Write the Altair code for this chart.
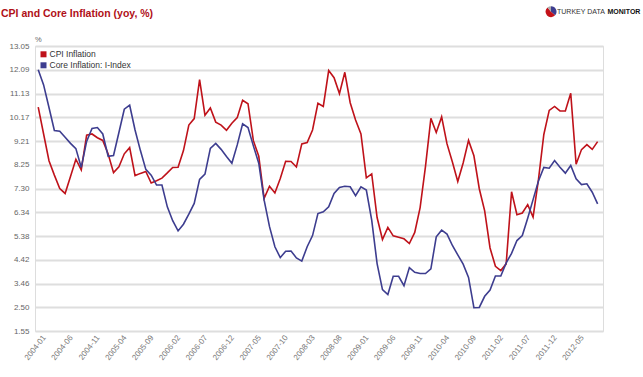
import altair as alt
import pandas as pd

# ---- data ----
months = [f"{2004 + i // 12}-{i % 12 + 1:02d}" for i in range(105)]

cpi = [
    10.58, 9.50, 8.42, 7.84, 7.30, 7.10, 7.78, 8.48, 8.05, 9.45, 9.50, 9.35,
    9.24, 8.69, 7.94, 8.18, 8.70, 8.95, 7.82, 7.91, 7.99, 7.52, 7.61, 7.72,
    7.93, 8.15, 8.16, 8.83, 9.86, 10.12, 11.69, 10.26, 10.55, 9.98, 9.86, 9.65,
    9.93, 10.16, 10.86, 10.72, 9.23, 8.60, 6.90, 7.39, 7.12, 7.70, 8.40, 8.39,
    8.17, 9.10, 9.15, 9.66, 10.74, 10.61, 12.06, 11.77, 11.13, 11.99, 10.76, 10.06,
    9.50, 7.73, 7.89, 6.13, 5.24, 5.73, 5.39, 5.33, 5.27, 5.08, 5.53, 6.53,
    8.19, 10.13, 9.56, 10.19, 9.10, 8.37, 7.58, 8.33, 9.24, 8.62, 7.29, 6.40,
    4.90, 4.16, 3.99, 4.26, 7.17, 6.24, 6.31, 6.65, 6.15, 7.66, 9.48, 10.45,
    10.61, 10.43, 10.43, 11.14, 8.28, 8.87, 9.07, 8.88, 9.19,
]

core = [
    12.09, 11.48, 10.57, 9.64, 9.61, 9.37, 9.12, 8.91, 8.15, 9.20, 9.72, 9.76,
    9.50, 8.60, 8.63, 9.56, 10.50, 10.66, 9.66, 8.83, 8.07, 7.84, 7.44, 7.44,
    6.56, 6.00, 5.59, 5.86, 6.27, 6.70, 7.67, 7.88, 8.92, 9.12, 8.88, 8.59,
    8.32, 9.06, 9.91, 9.76, 9.02, 8.32, 6.83, 5.76, 4.95, 4.51, 4.77, 4.78,
    4.50, 4.37, 4.95, 5.40, 6.29, 6.36, 6.56, 7.10, 7.34, 7.39, 7.37, 7.01,
    7.37, 7.24, 6.02, 4.27, 3.22, 3.02, 3.76, 3.76, 3.38, 4.11, 3.92, 3.87,
    3.87, 4.06, 5.35, 5.62, 5.46, 5.00, 4.62, 4.25, 3.71, 2.49, 2.50, 2.95,
    3.20, 3.77, 3.77, 4.30, 4.68, 5.20, 5.40, 6.10, 6.85, 7.60, 8.15, 8.12,
    8.43, 8.16, 7.92, 8.23, 7.69, 7.46, 7.49, 7.15, 6.68,
]

series_names = ["CPI Inflation", "Core Inflation: I-Index"]
series_colors = ["#bf121a", "#3d3d8f"]

y_ticks = [1.55, 2.50, 3.46, 4.42, 5.38, 6.34, 7.30, 8.25, 9.21, 10.17, 11.13, 12.09, 13.05]

x_labels = ["2004-01", "2004-06", "2004-11", "2005-04", "2005-09", "2006-02", "2006-07",
            "2006-12", "2007-05", "2007-10", "2008-03", "2008-08", "2009-01", "2009-06",
            "2009-11", "2010-04", "2010-09", "2011-02", "2011-07", "2011-12", "2012-05"]

title_text = "CPI and Core Inflation (yoy, %)"

# ---- table ----
rows = []
for name, vals in zip(series_names, [cpi, core]):
    for i, (m, v) in enumerate(zip(months, vals)):
        rows.append({"t": i, "month": m, "series": name, "value": v})
df = pd.DataFrame(rows)

label_positions = [months.index(l) for l in x_labels]
label_expr = "{" + ",".join(f"'{p}':'{l}'" for p, l in zip(label_positions, x_labels)) + "}[toString(datum.value)]"

FONT = "Liberation Sans"

lines = alt.Chart(df).mark_line(strokeWidth=1.6).encode(
    x=alt.X("t:Q",
            scale=alt.Scale(domain=[-0.6, 105], nice=False, zero=False),
            axis=alt.Axis(values=label_positions, labelExpr=label_expr, labelAngle=-52,
                          labelAlign="right", labelBaseline="middle", labelOffset=6,
                          labelPadding=5, labelFontSize=8, labelColor="#777",
                          ticks=False, domain=False, grid=False, title=None,
                          labelOverlap=False, labelBound=False, labelFlush=False)),
    y=alt.Y("value:Q",
            scale=alt.Scale(domain=[1.55, 13.05], nice=False, zero=False),
            axis=alt.Axis(values=y_ticks, format=".2f", grid=True, gridColor="#dedede",
                          gridWidth=2, domain=False, ticks=False, labelFontSize=8,
                          labelColor="#666", labelPadding=6, title=None)),
    color=alt.Color("series:N",
                    scale=alt.Scale(domain=series_names, range=series_colors),
                    legend=None),
)

one = pd.DataFrame({"k": [0]})


def txt(text, x, y, size, color, weight="normal", align="left", baseline="alphabetic"):
    return alt.Chart(one).mark_text(text=text, align=align, baseline=baseline,
                                    fontSize=size, fontWeight=weight, color=color,
                                    font=FONT).encode(x=alt.value(x), y=alt.value(y))


# legend (inside plot, top-left)
legend_layers = []
for k, (name, col) in enumerate(zip(series_names, series_colors)):
    yy = 8.3 + 11 * k
    legend_layers.append(
        alt.Chart(one).mark_square(size=36, filled=True, opacity=1, color=col).encode(
            x=alt.value(8.5), y=alt.value(yy)))
    legend_layers.append(txt(name, 14.5, yy, 8.5, "#333", baseline="middle"))

title = txt(title_text, -34, -29.3, 10.5, "#b01018", weight="bold")
pct = txt("%", 0, -4, 7.5, "#666")
logo1 = txt("TURKEY DATA", 522, -32.5, 7, "#333")
logo2 = txt("MONITOR", 572.5, -32.5, 7, "#111", weight="bold")

arc_blue = alt.Chart(one).mark_arc(theta=0, theta2=2.3, radius=5.5, color="#3d3d8f").encode(
    x=alt.value(516), y=alt.value(-34.3))
arc_red = alt.Chart(one).mark_arc(theta=2.3, theta2=5.6, radius=5.5, color="#c4121a").encode(
    x=alt.value(516), y=alt.value(-34.3))
arc_gray = alt.Chart(one).mark_arc(theta=5.6, theta2=6.2832, radius=5.5, color="#aaaaaa").encode(
    x=alt.value(516), y=alt.value(-34.3))

chart = alt.layer(lines, *legend_layers, title, pct, logo1, logo2,
                  arc_blue, arc_red, arc_gray).properties(
    width=568, height=285,
    autosize=alt.AutoSizeParams(type="none"),
    padding={"left": 35, "top": 46, "right": 40, "bottom": 46},
    background="white",
).configure_view(stroke=None).configure(font=FONT)

chart.save("out.html", embed_options={"renderer": "svg", "actions": False})
